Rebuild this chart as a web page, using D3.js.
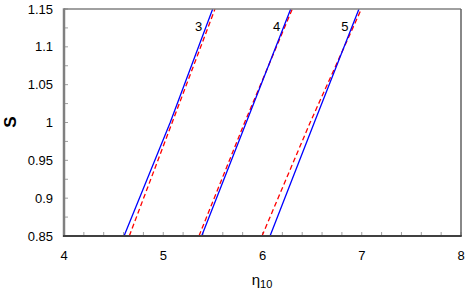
<!DOCTYPE html>
<html><head><meta charset="utf-8">
<script src="https://cdn.jsdelivr.net/npm/d3@7"></script>
<style>body{margin:0;background:#fff}svg{display:block}text{font-family:"Liberation Sans",Arial,sans-serif}</style>
</head><body>
<svg id="c" width="470" height="297"></svg>
<script>
const S = [0.85, 1.0, 1.15];
const blue3 = [4.605, 5.070, 5.498];
const red3  = [4.658, 5.090, 5.521];
const blue4 = [5.387, 5.836, 6.284];
const red4  = [5.360, 5.820, 6.300];
const blue5 = [6.076, 6.522, 6.972];
const red5  = [5.995, 6.480, 6.996];
const curveLabels = ["3", "4", "5"];
const xTicks = [4, 5, 6, 7, 8];
const yTicks = [0.85, 0.9, 0.95, 1, 1.05, 1.1, 1.15];

const svg = d3.select("#c");
const L = 64, R = 461, T = 9, B = 236;
const x = d3.scaleLinear().domain([4, 8]).range([L, R]);
const y = d3.scaleLinear().domain([0.85, 1.15]).range([B, T]);

svg.append("clipPath").attr("id", "pc").append("rect")
  .attr("x", L).attr("y", T).attr("width", R - L).attr("height", B - T);

// minor ticks
const xMinor = d3.range(4, 8.0001, 0.2);
const yMinor = d3.range(0.85, 1.1501, 0.025);
svg.append("g").selectAll("line").data(xMinor).join("line")
  .attr("x1", d => x(d)).attr("x2", d => x(d)).attr("y1", B).attr("y2", B - 4)
  .attr("stroke", "#a0a0a0").attr("stroke-width", 1);
svg.append("g").selectAll("line").data(yMinor).join("line")
  .attr("x1", L).attr("x2", L + 4).attr("y1", d => y(d)).attr("y2", d => y(d))
  .attr("stroke", "#a0a0a0").attr("stroke-width", 1);

// lines
const line = d3.line().x(d => x(d[0])).y(d => y(d[1]));
const series = [
  {v: red3, c: "#ff0000", dash: "5,3"},
  {v: red4, c: "#ff0000", dash: "5,3"},
  {v: red5, c: "#ff0000", dash: "5,3"},
  {v: blue3, c: "#0000ff", dash: null},
  {v: blue4, c: "#0000ff", dash: null},
  {v: blue5, c: "#0000ff", dash: null}
];
const g = svg.append("g").attr("clip-path", "url(#pc)");
series.forEach(s => {
  g.append("path").datum(s.v.map((e, i) => [e, S[i]]))
    .attr("d", line).attr("fill", "none").attr("stroke", s.c)
    .attr("stroke-width", 1.3).attr("stroke-dasharray", s.dash);
});

// frame
svg.append("line").attr("x1", L).attr("x2", R).attr("y1", T).attr("y2", T)
  .attr("stroke", "#808080").attr("stroke-width", 1.5);
svg.append("line").attr("x1", R).attr("x2", R).attr("y1", T).attr("y2", B)
  .attr("stroke", "#606060").attr("stroke-width", 1.5);
svg.append("line").attr("x1", L).attr("x2", L).attr("y1", T - 0.75).attr("y2", B + 1)
  .attr("stroke", "#808080").attr("stroke-width", 2.5);
svg.append("line").attr("x1", L - 1).attr("x2", R + 0.75).attr("y1", B).attr("y2", B)
  .attr("stroke", "#404040").attr("stroke-width", 2);

// tick labels
svg.append("g").selectAll("text").data(xTicks).join("text")
  .attr("x", d => x(d)).attr("y", 260).attr("text-anchor", "middle")
  .attr("font-size", 13).attr("fill", "#000").text(d => d);
svg.append("g").selectAll("text").data(yTicks).join("text")
  .attr("x", 53).attr("y", d => y(d) + 4.5).attr("text-anchor", "end")
  .attr("font-size", 13).attr("fill", "#000").text(d => d);

// curve labels
const labelX = [blue3[2], blue4[2], blue5[2]];
svg.append("g").selectAll("text").data(curveLabels).join("text")
  .attr("x", (d, i) => x(labelX[i]) - 14).attr("y", 31).attr("text-anchor", "middle")
  .attr("font-size", 13).attr("fill", "#000").text(d => d);

// axis titles
svg.append("text").attr("transform", "translate(16,122) rotate(-90)")
  .attr("text-anchor", "middle").attr("font-size", 17).attr("font-weight", "bold").text("S");
const xt = svg.append("text").attr("x", 262).attr("y", 285).attr("text-anchor", "middle").attr("font-size", 15);
xt.append("tspan").text("η");
xt.append("tspan").attr("font-size", 11).attr("dy", 3).text("10");
</script>
</body></html>
